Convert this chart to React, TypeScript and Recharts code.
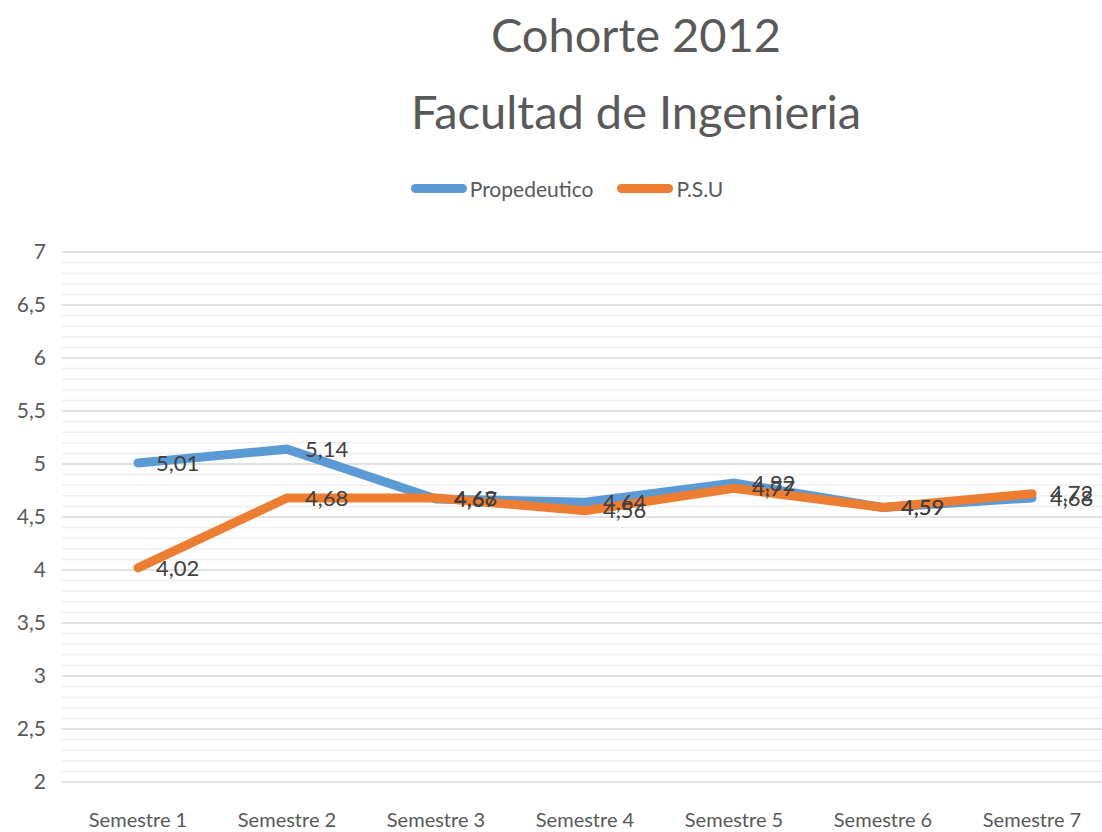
import React from "react"
import {
  LineChart,
  Line,
  XAxis,
  YAxis,
  CartesianGrid,
  ReferenceLine,
  LabelList,
  Legend,
} from "recharts"

const semestres = ["Semestre 1", "Semestre 2", "Semestre 3", "Semestre 4", "Semestre 5", "Semestre 6", "Semestre 7"]
const propedeutico = [5.01, 5.14, 4.67, 4.64, 4.82, 4.59, 4.68]
const psu = [4.02, 4.68, 4.68, 4.56, 4.77, 4.59, 4.72]
const yTicks = [2, 2.5, 3, 3.5, 4, 4.5, 5, 5.5, 6, 6.5, 7]
const minorTicks = [
  2.1, 2.2, 2.3, 2.4, 2.6, 2.7, 2.8, 2.9, 3.1, 3.2, 3.3, 3.4, 3.6, 3.7, 3.8, 3.9,
  4.1, 4.2, 4.3, 4.4, 4.6, 4.7, 4.8, 4.9, 5.1, 5.2, 5.3, 5.4, 5.6, 5.7, 5.8, 5.9,
  6.1, 6.2, 6.3, 6.4, 6.6, 6.7, 6.8, 6.9,
]

const data = semestres.map((name, i) => ({
  name,
  propedeutico: propedeutico[i],
  psu: psu[i],
}))

const FONT = "Lato, 'Open Sans', sans-serif"
const BLUE = "#5B9BD5"
const ORANGE = "#ED7D31"

const fmt = (v: any) => String(v).replace(".", ",")

function LegendContent() {
  const items = [
    { label: "Propedeutico", color: BLUE },
    { label: "P.S.U", color: ORANGE },
  ]
  return (
    <div
      style={{
        display: "flex",
        justifyContent: "center",
        paddingLeft: 32,
        height: 25,
        fontFamily: FONT,
        fontSize: 21,
        color: "#595959",
      }}
    >
      {items.map((it) => (
        <div key={it.label} style={{ display: "flex", alignItems: "center", margin: "0 12px" }}>
          <div style={{ width: 56, height: 9, borderRadius: 5, background: it.color, marginRight: 3 }} />
          <span>{it.label}</span>
        </div>
      ))}
    </div>
  )
}

export default function App() {
  return (
    <div style={{ position: "absolute", left: 0, top: 0, width: 1102, height: 832, background: "#fff" }}>
      <div
        style={{
          position: "absolute",
          left: 0,
          width: 1272,
          top: -4,
          textAlign: "center",
          fontFamily: FONT,
          fontSize: 47,
          lineHeight: "77px",
          color: "#595959",
        }}
      >
        Cohorte 2012
        <br />
        Facultad de Ingenieria
      </div>
      <LineChart width={1102} height={832} data={data} margin={{ top: 227, right: 0, left: 0, bottom: 0 }}>
        <CartesianGrid horizontal vertical={false} stroke="#d9d9d9" strokeWidth={1.5} />
        {minorTicks.map((t) => (
          <ReferenceLine key={t} y={t} stroke="#f0f0f0" strokeWidth={1.5} />
        ))}
        <XAxis
          dataKey="name"
          axisLine={false}
          tickLine={false}
          padding={{ left: 76, right: 70 }}
          height={50}
          tick={{ fontFamily: FONT, fontSize: 20, fill: "#595959", dy: 23 }}
        />
        <YAxis
          domain={[2, 7]}
          ticks={yTicks}
          tickFormatter={fmt}
          axisLine={false}
          tickLine={false}
          width={62}
          tick={{ fontFamily: FONT, fontSize: 21, fill: "#595959", dx: -8 }}
        />
        <Legend verticalAlign="top" wrapperStyle={{ top: 176 }} content={() => <LegendContent />} />
        <Line
          dataKey="propedeutico"
          stroke={BLUE}
          strokeWidth={9}
          strokeLinecap="round"
          dot={false}
          isAnimationActive={false}
        >
          <LabelList
            dataKey="propedeutico"
            position="right"
            offset={18}
            formatter={fmt}
            style={{ fontFamily: FONT, fontSize: 22, fill: "#404040" }}
          />
        </Line>
        <Line
          dataKey="psu"
          stroke={ORANGE}
          strokeWidth={9}
          strokeLinecap="round"
          dot={false}
          isAnimationActive={false}
        >
          <LabelList
            dataKey="psu"
            position="right"
            offset={18}
            formatter={fmt}
            style={{ fontFamily: FONT, fontSize: 22, fill: "#404040" }}
          />
        </Line>
      </LineChart>
    </div>
  )
}
